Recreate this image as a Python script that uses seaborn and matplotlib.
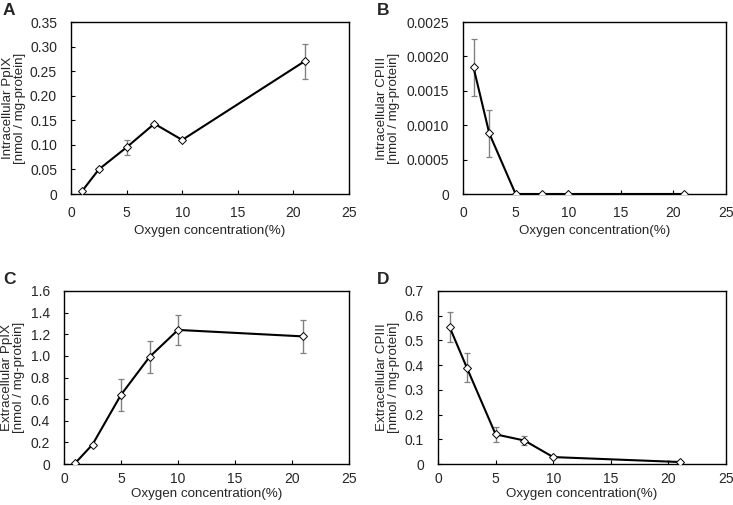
import matplotlib
matplotlib.use("Agg")
import matplotlib.pyplot as plt
import seaborn as sns
import pandas as pd

sns.set_theme(style="white")
plt.rcParams['font.family'] = ['Liberation Sans', 'DejaVu Sans']

oxygen = [1, 2.5, 5, 7.5, 10, 21]

intra_ppix = [0.006, 0.050, 0.095, 0.143, 0.110, 0.270]
intra_ppix_err = [0, 0, 0.015, 0, 0, 0.035]

intra_cpiii = [0.00184, 0.00088, 0.0, 0.0, 0.0, 0.0]
intra_cpiii_err = [0.00042, 0.00034, 0, 0, 0, 0]

extra_ppix = [0.01, 0.18, 0.64, 0.99, 1.24, 1.18]
extra_ppix_err = [0, 0, 0.15, 0.145, 0.14, 0.15]

extra_cpiii = [0.555, 0.39, 0.12, 0.095, 0.028, 0.008]
extra_cpiii_err = [0.06, 0.06, 0.03, 0.02, 0, 0]

x_ticks = [0, 5, 10, 15, 20, 25]
yticks_a = [0, 0.05, 0.10, 0.15, 0.20, 0.25, 0.30, 0.35]
ylabels_a = ["0", "0.05", "0.10", "0.15", "0.20", "0.25", "0.30", "0.35"]
yticks_b = [0, 0.0005, 0.0010, 0.0015, 0.0020, 0.0025]
ylabels_b = ["0", "0.0005", "0.0010", "0.0015", "0.0020", "0.0025"]
yticks_c = [0, 0.2, 0.4, 0.6, 0.8, 1.0, 1.2, 1.4, 1.6]
ylabels_c = ["0", "0.2", "0.4", "0.6", "0.8", "1.0", "1.2", "1.4", "1.6"]
yticks_d = [0, 0.1, 0.2, 0.3, 0.4, 0.5, 0.6, 0.7]
ylabels_d = ["0", "0.1", "0.2", "0.3", "0.4", "0.5", "0.6", "0.7"]

W, H = 733, 505


def rect(l, t, r, b):
    return [l / W, 1 - b / H, (r - l) / W, (b - t) / H]


panels = [
    ("A", intra_ppix, intra_ppix_err, yticks_a, ylabels_a, "Intracellular PpIX\n[nmol / mg-protein]",
     rect(71, 22, 349, 194), 14, (3, 3), 8.5, 4),
    ("B", intra_cpiii, intra_cpiii_err, yticks_b, ylabels_b, "Intracellular CPIII\n[nmol / mg-protein]",
     rect(463, 22, 726, 194), 388, (377, 3), 8.5, 4),
    ("C", extra_ppix, extra_ppix_err, yticks_c, ylabels_c, "Extracellular PpIX\n[nmol / mg-protein]",
     rect(64, 291, 349, 464), 13, (3, 272), 6, 1.5),
    ("D", extra_cpiii, extra_cpiii_err, yticks_d, ylabels_d, "Extracellular CPIII\n[nmol / mg-protein]",
     rect(438, 291, 726, 464), 388, (377, 272), 6, 1.5),
]

fig = plt.figure(figsize=(7.33, 5.05), dpi=100)
fs_tick = 10
fs_lab = 9.6
for letter, y, err, yt, yl, ylab, r, ylab_x, lpos, xpad, xlpad in panels:
    ax = fig.add_axes(r)
    df = pd.DataFrame({"x": oxygen, "y": y, "e": err})
    ax.errorbar(df["x"], df["y"], yerr=df["e"], fmt="none", ecolor="#808080",
                elinewidth=1.0, capsize=2.2, capthick=0.9, zorder=2)
    sns.lineplot(data=df, x="x", y="y", ax=ax, color="black", linewidth=1.5,
                 marker="D", markersize=4.2, markerfacecolor="white",
                 markeredgecolor="black", markeredgewidth=0.7, zorder=3)
    ax.set_xlim(0, 25)
    ax.set_ylim(yt[0], yt[-1])
    ax.set_xticks(x_ticks)
    ax.set_xticklabels([str(t) for t in x_ticks], fontsize=fs_tick)
    ax.set_yticks(yt)
    ax.set_yticklabels(yl, fontsize=fs_tick)
    ax.tick_params(axis="x", direction="in", length=3, width=0.8, color="black",
                   bottom=True, pad=xpad)
    ax.tick_params(axis="y", direction="in", length=3, width=0.8, color="black",
                   left=True, pad=10)
    for s in ax.spines.values():
        s.set_color("black")
        s.set_linewidth(1.0)
    ax.set_xlabel("Oxygen concentration(%)", fontsize=fs_lab, labelpad=xlpad)
    ax.set_ylabel(ylab, fontsize=fs_lab, linespacing=1.0)
    ax.yaxis.label.set_va("center")
    axl = r[0] * W
    axw = r[2] * W
    ax.yaxis.set_label_coords((ylab_x - axl) / axw, 0.5)
    ax.grid(False)
    fig.text(lpos[0] / W, 1 - lpos[1] / H, letter, fontsize=12.5, fontweight="bold",
             ha="left", va="top")

fig.savefig("out.png", dpi=100, facecolor="white")
